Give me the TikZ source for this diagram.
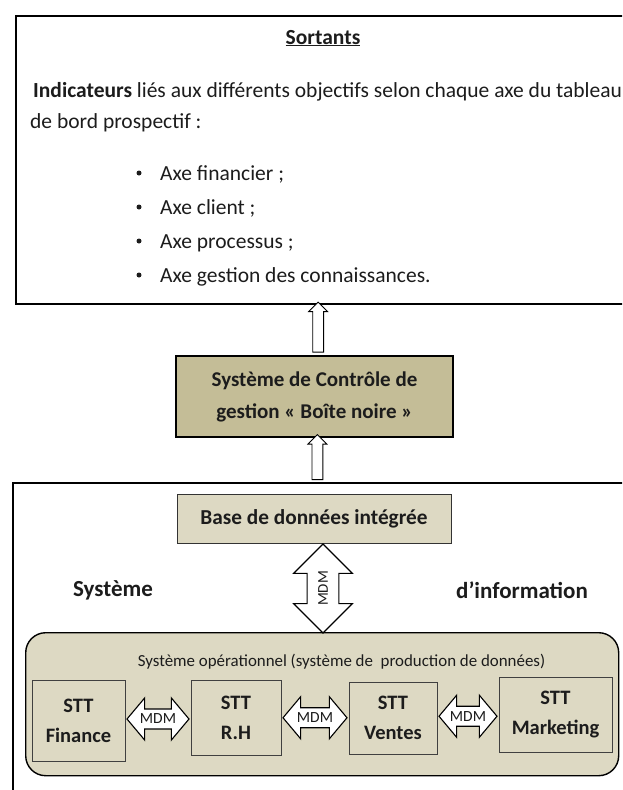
\documentclass[tikz,border=0pt]{standalone}
\usepackage{fontspec}
\setmainfont{Carlito}
\usepackage{xcolor}
\usetikzlibrary{shapes.arrows,calc}
\definecolor{tanfonce}{HTML}{C4BD97}
\definecolor{tanclair}{HTML}{DDD9C3}
\definecolor{encre}{HTML}{1C1C1C}
\tikzset{cadre/.style={draw=black,line width=1.6pt,inner sep=0pt,#1}}
\tikzset{cadre/.default={}}
\tikzset{texte/.style={text=encre,font={\fontsize{21.5pt}{25pt}\selectfont}}}
\tikzset{flux/.style={draw=black,fill=white,line width=0.9pt,single arrow,single arrow head extend=4pt,inner sep=5pt,minimum height=#1,rotate=90}}
\tikzset{mdm/.style={draw=black,fill=white,line width=1.1pt,double arrow,double arrow tip angle=100,inner xsep=1pt,inner ysep=4.5pt,double arrow head extend=11pt,minimum height=#1,text=encre,font={\fontsize{15.5pt}{17pt}\selectfont}}}
\tikzset{stt/.style={draw=black!75,fill=tanclair,line width=0.8pt,align=center,text=encre,font={\fontsize{20.5pt}{30pt}\selectfont\bfseries}}}

\begin{document}
\begin{tikzpicture}[x=1pt,y=-1pt]
    \useasboundingbox (0,0) rectangle (622,790);
    \clip (0,0) rectangle (622,790);
    \node[cadre,minimum width=612pt,minimum height=288pt,anchor=north west] (sortie) at (15,15) {};
    \node[texte,font={\fontsize{21.5pt}{25pt}\selectfont\bfseries},anchor=base] (titre) at (323,44) {\underline{Sortants}};
    \node[texte,anchor=base west,inner sep=0pt] (ind) at (33,97) {\textbf{Indicateurs} liés aux différents objectifs selon chaque axe du tableau};
    \node[texte,anchor=base west,inner sep=0pt] (bord) at (30,128) {de bord prospectif :};
    \foreach \i/\t in {0/{Axe financier ;},1/{Axe client ;},2/{Axe processus ;},3/{Axe gestion des connaissances.}}{
        \node[fill=encre,circle,inner sep=0pt,minimum size=5pt] (puce\i) at (139,173+34*\i) {};
        \node[texte,anchor=base west,inner sep=0pt] (axe\i) at (160,180+34*\i) {\t};
    }

    \node[cadre,fill=tanfonce,minimum width=277pt,minimum height=81pt,align=center,text=encre,font={\fontsize{21pt}{32pt}\selectfont\bfseries}] (boite) at (314.5,396.5) {Système de Contrôle de\\gestion « Boîte noire »};
    \node[flux=50pt] (f1) at ($(sortie.south)!0.5!(boite.north)$) {};

    \node[cadre,minimum width=615pt,minimum height=330pt,anchor=north west] (si) at (12,482) {};
    \node[flux=45pt] (f2) at ($(boite.south)!0.5!(si.north)$) {};

    \node[draw=black!80,fill=tanclair,line width=1pt,minimum width=274pt,minimum height=49pt,text=encre,font={\fontsize{21.3pt}{25pt}\selectfont\bfseries}] (base) at (314,518.5) {Base de données intégrée};
    \node[text=encre,font={\fontsize{23pt}{26pt}\selectfont\bfseries}] (sys) at (113,590) {Système};
    \node[text=encre,font={\fontsize{23pt}{26pt}\selectfont\bfseries}] (info) at (522,590) {d’information};

    \node[fill=tanclair,draw=black,line width=1.4pt,rounded corners=20pt,minimum width=593pt,minimum height=143pt,anchor=north west] (oper) at (25,632) {};
    \node[mdm=89pt,rotate=90,inner ysep=10.5pt,double arrow head extend=13.5pt,double arrow tip angle=90,font={\fontsize{15pt}{16pt}\selectfont}] (mv) at (323,588.5) {MDM};
    \node[text=encre,font={\fontsize{16.9pt}{20pt}\selectfont}] (prod) at (341.5,662) {Système opérationnel (système de\ \ production de données)};

    \foreach \n/\x/\y/\w/\h/\t in {fin/78.5/720.5/93/81/Finance,rh/236/717.5/90/75/R.H,ven/393/718/88/72/Ventes,mkt/555.5/714.5/113/75/Marketing}{
        \node[stt,minimum width=\w pt,minimum height=\h pt] (\n) at (\x,\y) {STT\\\t};
    }
    \node[mdm=62pt] (m1) at ($(fin.east)!0.5!(rh.west)$) {MDM};
    \node[mdm=64pt] (m2) at ($(rh.east)!0.5!(ven.west)$) {MDM};
    \node[mdm=58pt] (m3) at ($(ven.east)!0.5!(mkt.west)$) {MDM};
\end{tikzpicture}
\end{document}
